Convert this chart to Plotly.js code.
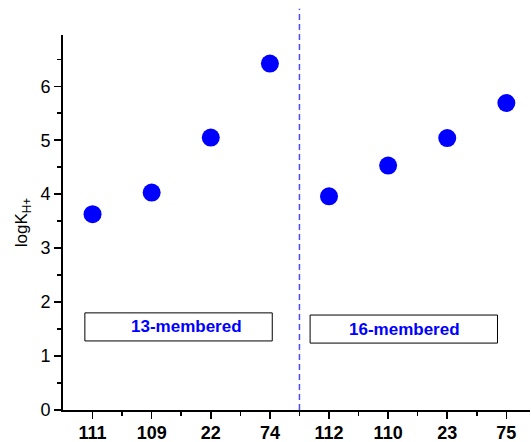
<!DOCTYPE html>
<html><head><meta charset="utf-8">
<script src="https://cdn.plot.ly/plotly-3.0.1.min.js"></script>
<style>html,body{margin:0;padding:0;background:#fff}</style>
</head><body><div id="plot" style="width:531px;height:442px"></div>
<script>
const compounds = ["111","109","22","74","112","110","23","75"];
const positions = [1,2,3,4,5,6,7,8];
const logK = [3.63,4.03,5.05,6.42,3.96,4.53,5.04,5.69];
const groupLabels = ["13-membered","16-membered"];

const trace = {
  x: positions, y: logK, type: "scatter", mode: "markers",
  marker: {color: "#0000ff", size: 18, line: {width: 0}},
  showlegend: false, cliponaxis: false
};
const layout = {
  width: 531, height: 442,
  margin: {l: 63, r: 1, t: 35, b: 32},
  paper_bgcolor: "#fff", plot_bgcolor: "#fff",
  font: {family: "Arial, Liberation Sans, sans-serif", color: "#000"},
  xaxis: {
    range: [0.5, 8.4], tickmode: "array", tickvals: positions, ticktext: compounds,
    showgrid: false, zeroline: false, showline: true, linecolor: "#000", linewidth: 2,
    ticks: "outside", ticklen: 7, tickwidth: 1.5, tickcolor: "#000",
    tickfont: {size: 18, family: "Arial, Liberation Sans, sans-serif", weight: "bold"},
    ticklabelstandoff: -2,
    minor: {tickmode: "array", tickvals: [1.5,2.5,3.5,4.5,5.5,6.5,7.5], ticks: "outside", ticklen: 4, tickwidth: 1.5, tickcolor: "#000"}
  },
  yaxis: {
    range: [0, 6.95], tickmode: "linear", tick0: 0, dtick: 1,
    showgrid: false, zeroline: false, showline: true, linecolor: "#000", linewidth: 2,
    ticks: "outside", ticklen: 7, tickwidth: 1.5, tickcolor: "#000",
    tickfont: {size: 18},
    minor: {dtick: 0.5, ticks: "outside", ticklen: 4, tickwidth: 1.5, tickcolor: "#000"},
    title: {text: "logK<sub>H+</sub>", font: {size: 17}, standoff: 8}
  },
  shapes: [
    {type: "line", xref: "x", yref: "paper", x0: 4.5, x1: 4.5, y0: 0, y1: 1.07,
     line: {color: "#4d4dff", width: 1.5, dash: "6px,4px"}},
    {type: "rect", xref: "x", yref: "y", x0: 0.87, x1: 4.04, y0: 1.28, y1: 1.80,
     line: {color: "#000", width: 1}, fillcolor: "#fff"},
    {type: "rect", xref: "x", yref: "y", x0: 4.68, x1: 7.85, y0: 1.24, y1: 1.76,
     line: {color: "#000", width: 1}, fillcolor: "#fff"}
  ],
  annotations: [
    {x: 2.59, y: 1.54, xref: "x", yref: "y", text: "<b>" + groupLabels[0] + "</b>", showarrow: false,
     font: {size: 17, color: "#0000ff"}},
    {x: 6.27, y: 1.50, xref: "x", yref: "y", text: "<b>" + groupLabels[1] + "</b>", showarrow: false,
     font: {size: 17, color: "#0000ff"}}
  ]
};
Plotly.newPlot("plot", [trace], layout, {displayModeBar: false, staticPlot: true});
</script></body></html>
